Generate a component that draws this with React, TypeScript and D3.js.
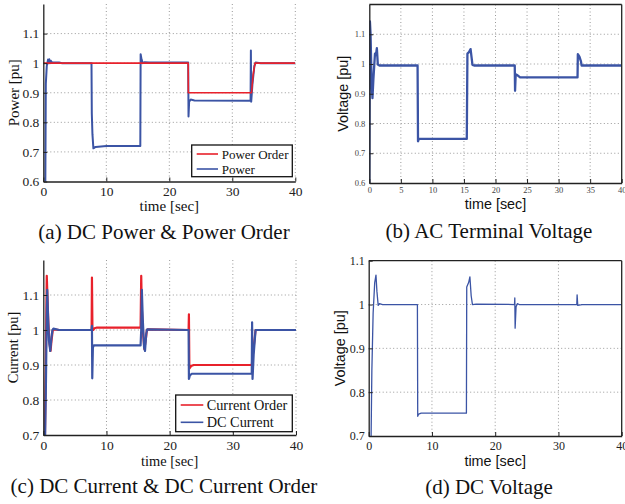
import React, { useRef, useEffect } from "react";
import * as d3 from "d3";

type Pt = [number, number];

const RED = "#e8212b";
const BLUE = "#3b54a5";
const SERIF = "'Liberation Serif', 'Times New Roman', serif";
const SANS = "'Liberation Sans', Arial, sans-serif";

// (a) DC power & power order
const powerOrder: Pt[] = [
  [0, 1], [23.0, 1], [23.02, 0.9], [33.05, 0.9], [33.3, 0.96], [33.6, 1.0], [40, 1],
];
const power: Pt[] = [
  [0.3, 0.5], [0.4, 0.93], [0.55, 0.99], [0.75, 1.012], [0.85, 1.0], [0.95, 1.013],
  [1.05, 1.0], [1.2, 1.008], [1.4, 1.002], [2.5, 1.002], [3, 1.0], [7.65, 1.0],
  [7.7, 0.83], [7.8, 0.76], [7.95, 0.712], [8.3, 0.717], [10, 0.72], [15.4, 0.72],
  [15.45, 1.03], [15.6, 1.012], [15.8, 1.0], [16.1, 1.003], [16.8, 1.002], [23.0, 1.002],
  [23.05, 0.82], [23.15, 0.87], [23.4, 0.877], [24, 0.874], [32.9, 0.873], [32.95, 1.043],
  [33.0, 0.87], [33.2, 0.93], [33.5, 0.99], [33.7, 1.002], [34.5, 1.0], [40, 1.0],
];

// (b) AC terminal voltage
const acVoltage: Pt[] = [
  [0, 0.6], [0.1, 1.143], [0.2, 1.1], [0.35, 0.95], [0.5, 0.885], [0.65, 0.95],
  [0.9, 1.035], [1.05, 1.03], [1.2, 1.053], [1.35, 0.998], [1.6, 0.995], [7.65, 0.995],
  [7.72, 0.74], [7.85, 0.748], [15.45, 0.748], [15.55, 1.035], [15.8, 1.04], [16.05, 1.05],
  [16.35, 0.997], [16.6, 0.995], [23.05, 0.995], [23.1, 0.91], [23.2, 0.965], [23.5, 0.962],
  [23.9, 0.955], [33.0, 0.955], [33.05, 1.033], [33.3, 1.025], [33.55, 1.008], [33.65, 0.995],
  [40, 0.995],
];

// (c) DC current & current order
const currentOrder: Pt[] = [
  [0.2, 0.6], [0.45, 1.0], [0.55, 1.155], [0.65, 1.1], [0.8, 1.02], [1.0, 0.96],
  [1.15, 0.94], [1.3, 0.97], [1.5, 1.0], [1.7, 1.002], [2.5, 1.0], [7.65, 1.0],
  [7.7, 1.15], [7.78, 1.0], [7.9, 1.0], [8.1, 1.005], [8.5, 1.007], [15.4, 1.007],
  [15.5, 1.155], [15.6, 1.06], [15.8, 0.99], [16.0, 0.945], [16.2, 0.97], [16.4, 1.0],
  [16.6, 1.002], [23.0, 1.0], [23.05, 1.045], [23.12, 0.89], [23.4, 0.897], [23.8, 0.9],
  [33.0, 0.9], [33.3, 0.95], [33.6, 1.0], [40, 1.0],
];
const dcCurrent: Pt[] = [
  [0.2, 0.6], [0.4, 0.82], [0.55, 1.05], [0.62, 1.115], [0.75, 1.04], [0.9, 0.97],
  [1.1, 0.94], [1.3, 0.98], [1.45, 1.0], [1.6, 1.004], [2.5, 1.0], [7.65, 1.0],
  [7.7, 1.012], [7.75, 0.862], [7.85, 0.95], [8.0, 0.956], [15.4, 0.956], [15.5, 1.0],
  [15.6, 1.115], [15.75, 1.03], [15.95, 0.95], [16.1, 0.94], [16.3, 0.99], [16.45, 1.002],
  [23.0, 1.0], [23.05, 0.86], [23.2, 0.87], [23.5, 0.875], [33.0, 0.875], [33.05, 1.022],
  [33.12, 0.86], [33.3, 0.93], [33.6, 1.0], [40, 1.0],
];

// (d) DC voltage
const dcVoltage: Pt[] = [
  [0.3, 0.6], [0.5, 0.85], [0.7, 0.98], [0.95, 1.05], [1.15, 1.067], [1.3, 1.03],
  [1.5, 0.998], [1.7, 1.002], [2.2, 1.0], [7.7, 1.0], [7.75, 0.745], [7.9, 0.75],
  [8.3, 0.752], [15.45, 0.752], [15.5, 1.04], [15.8, 1.05], [16.0, 1.063], [16.2, 1.02],
  [16.4, 1.0], [17, 1.001], [23.05, 1.0], [23.1, 1.015], [23.15, 0.946], [23.3, 0.995],
  [23.5, 1.002], [23.8, 1.0], [32.9, 1.0], [32.95, 1.022], [33.05, 0.998], [33.5, 0.999],
  [33.7, 1.0], [40, 1.0],
];

const xTicks10 = [0, 10, 20, 30, 40];
const xTicks5 = [0, 5, 10, 15, 20, 25, 30, 35, 40];
const yTicks06 = [0.6, 0.7, 0.8, 0.9, 1.0, 1.1];
const yTicks07 = [0.7, 0.8, 0.9, 1.0, 1.1];

const captions = [
  "(a) DC Power & Power Order",
  "(b) AC Terminal Voltage",
  "(c) DC Current & DC Current Order",
  "(d) DC Voltage",
];

const panels = [
  {
    id: "a", left: 43.3, right: 295.3, top: 4, bottom: 181.5, yDomain: [0.6, 1.2],
    xTicks: xTicks10, yTicks: yTicks06, gridX: [10, 20, 30, 40], gridY: [0.7, 0.8, 0.9, 1.0, 1.1],
    box: false, tickFont: SERIF, tickSize: 13.5, tickColor: "#222", labelFont: SERIF, labelSize: 15,
    yLabel: "Power [pu]", yLabelX: 13.3, xLabelY: 206,
    series: [
      { data: power, color: BLUE, width: 2 },
      { data: powerOrder, color: RED, width: 1.6 },
    ],
    legend: { x: 191.7, y: 145, w: 100.6, h: 31.7, size: 13, rows: [["Power Order", RED, 154], ["Power", BLUE, 169]], lx: [196.7, 218], tx: 221.7 },
    caption: captions[0], capX: 164, capY: 239,
  },
  {
    id: "b", left: 369.3, right: 621.7, top: 4.5, bottom: 183, yDomain: [0.6, 1.2],
    xTicks: xTicks5, yTicks: yTicks06, gridX: [5, 10, 15, 20, 25, 30, 35], gridY: [0.7, 0.8, 0.9, 1.0, 1.1],
    box: true, tickFont: SERIF, tickSize: 8.5, tickColor: "#444", labelFont: SANS, labelSize: 14.4,
    yLabel: "Voltage [pu]", yLabelX: 343, xLabelY: 204,
    series: [{ data: acVoltage, color: BLUE, width: 2.3 }],
    legend: null,
    caption: captions[1], capX: 489, capY: 238,
  },
  {
    id: "c", left: 43.3, right: 296, top: 260, bottom: 435, yDomain: [0.7, 1.2],
    xTicks: xTicks10, yTicks: yTicks07, gridX: [10, 20, 30, 40], gridY: [0.8, 0.9, 1.0, 1.1],
    box: false, tickFont: SERIF, tickSize: 13.5, tickColor: "#222", labelFont: SERIF, labelSize: 14.4,
    yLabel: "Current [pu]", yLabelX: 13, xLabelY: 461,
    series: [
      { data: currentOrder, color: RED, width: 2.2 },
      { data: dcCurrent, color: BLUE, width: 2.2 },
    ],
    legend: { x: 175.7, y: 395, w: 116.6, h: 36.7, size: 14.3, rows: [["Current Order", RED, 405], ["DC Current", BLUE, 422.3]], lx: [180.7, 203.3], tx: 206.7 },
    caption: captions[2], capX: 164, capY: 493,
  },
  {
    id: "d", left: 368.7, right: 621.7, top: 260.7, bottom: 436, yDomain: [0.7, 1.1],
    xTicks: xTicks10, yTicks: [0.7, 0.8, 0.9, 1.0, 1.1], gridX: [10, 20, 30], gridY: [0.8, 0.9, 1.0],
    box: true, tickFont: SERIF, tickSize: 12, tickColor: "#222", labelFont: SANS, labelSize: 14.4,
    yLabel: "Voltage [pu]", yLabelX: 339.5, xLabelY: 460.7,
    series: [{ data: dcVoltage, color: BLUE, width: 1.3 }],
    legend: null,
    caption: captions[3], capX: 489, capY: 494,
  },
];

const fmt = (d: number) => String(+d.toFixed(2));

const App = () => {
  const svgRef = useRef<SVGSVGElement>(null);

  useEffect(() => {
    const svg = d3.select(svgRef.current);
    svg.selectAll("*").remove();

    panels.forEach((p) => {
      const x = d3.scaleLinear().domain([0, 40]).range([p.left, p.right]);
      const y = d3.scaleLinear().domain(p.yDomain).range([p.bottom, p.top]);
      const g = svg.append("g");

      // dotted grid
      g.append("g").selectAll("line").data(p.gridX).join("line")
        .attr("x1", (d) => x(d)).attr("x2", (d) => x(d))
        .attr("y1", p.top).attr("y2", p.bottom)
        .attr("stroke", "#999").attr("stroke-width", 1).attr("stroke-dasharray", "1,2.5");
      g.append("g").selectAll("line").data(p.gridY).join("line")
        .attr("x1", p.left).attr("x2", p.right)
        .attr("y1", (d) => y(d)).attr("y2", (d) => y(d))
        .attr("stroke", "#999").attr("stroke-width", 1).attr("stroke-dasharray", "1,2.5");

      // clipped data lines
      const clipId = `clip-${p.id}`;
      svg.append("clipPath").attr("id", clipId).append("rect")
        .attr("x", p.left).attr("y", p.top)
        .attr("width", p.right - p.left).attr("height", p.bottom - p.top);
      const line = d3.line<Pt>().x((d) => x(d[0])).y((d) => y(d[1]));
      g.append("g").attr("clip-path", `url(#${clipId})`)
        .selectAll("path").data(p.series).join("path")
        .attr("d", (s) => line(s.data))
        .attr("fill", "none")
        .attr("stroke", (s) => s.color)
        .attr("stroke-width", (s) => s.width)
        .attr("stroke-linejoin", "round");

      // axes, MATLAB style inward ticks
      const yAxis = g.append("g").attr("transform", `translate(${p.left},0)`)
        .call(d3.axisLeft(y).tickValues(p.yTicks).tickFormat(fmt as any).tickSizeInner(-4).tickSizeOuter(0).tickPadding(4));
      const xAxis = g.append("g").attr("transform", `translate(0,${p.bottom})`)
        .call(d3.axisBottom(x).tickValues(p.xTicks).tickFormat(fmt as any).tickSizeInner(-4).tickSizeOuter(0).tickPadding(p.id === "b" ? 4 : 5));
      [yAxis, xAxis].forEach((a) => {
        a.attr("font-family", p.tickFont).attr("font-size", p.tickSize);
        a.selectAll("text").attr("fill", p.tickColor);
        a.select(".domain").attr("stroke", "#222").attr("stroke-width", 1.3);
        a.selectAll(".tick line").attr("stroke", "#222");
      });

      if (p.box) {
        g.append("line").attr("x1", p.left).attr("x2", p.right).attr("y1", p.top).attr("y2", p.top)
          .attr("stroke", "#222").attr("stroke-width", 1.3);
        g.append("line").attr("x1", p.right).attr("x2", p.right).attr("y1", p.top).attr("y2", p.bottom)
          .attr("stroke", "#222").attr("stroke-width", 1.3);
      }

      // axis titles
      g.append("text")
        .attr("transform", `translate(${p.yLabelX},${(p.top + p.bottom) / 2}) rotate(-90)`)
        .attr("text-anchor", "middle").attr("dy", "0.35em")
        .attr("font-family", p.labelFont).attr("font-size", p.labelSize).attr("fill", "#111")
        .text(p.yLabel);
      g.append("text")
        .attr("x", (p.left + p.right) / 2).attr("y", p.xLabelY).attr("dy", "0.35em")
        .attr("text-anchor", "middle")
        .attr("font-family", p.labelFont).attr("font-size", p.labelSize).attr("fill", "#111")
        .text("time [sec]");

      // legend
      if (p.legend) {
        const L = p.legend;
        const lg = g.append("g");
        lg.append("rect").attr("x", L.x).attr("y", L.y).attr("width", L.w).attr("height", L.h)
          .attr("fill", "white").attr("stroke", "#111").attr("stroke-width", 1.3);
        L.rows.forEach(([label, color, ry]) => {
          lg.append("line").attr("x1", L.lx[0]).attr("x2", L.lx[1]).attr("y1", ry).attr("y2", ry)
            .attr("stroke", color as string).attr("stroke-width", 1.6);
          lg.append("text").attr("x", L.tx).attr("y", ry).attr("dy", "0.35em")
            .attr("font-family", SERIF).attr("font-size", L.size).attr("fill", "#111")
            .text(label as string);
        });
      }

      // caption
      svg.append("text")
        .attr("x", p.capX).attr("y", p.capY).attr("text-anchor", "middle")
        .attr("font-family", SERIF).attr("font-size", 21).attr("fill", "#111")
        .text(p.caption);
    });
  }, []);

  return (
    <svg
      ref={svgRef}
      width={625}
      height={504}
      style={{ position: "absolute", left: 0, top: 0, background: "white" }}
    />
  );
};

export default App;
